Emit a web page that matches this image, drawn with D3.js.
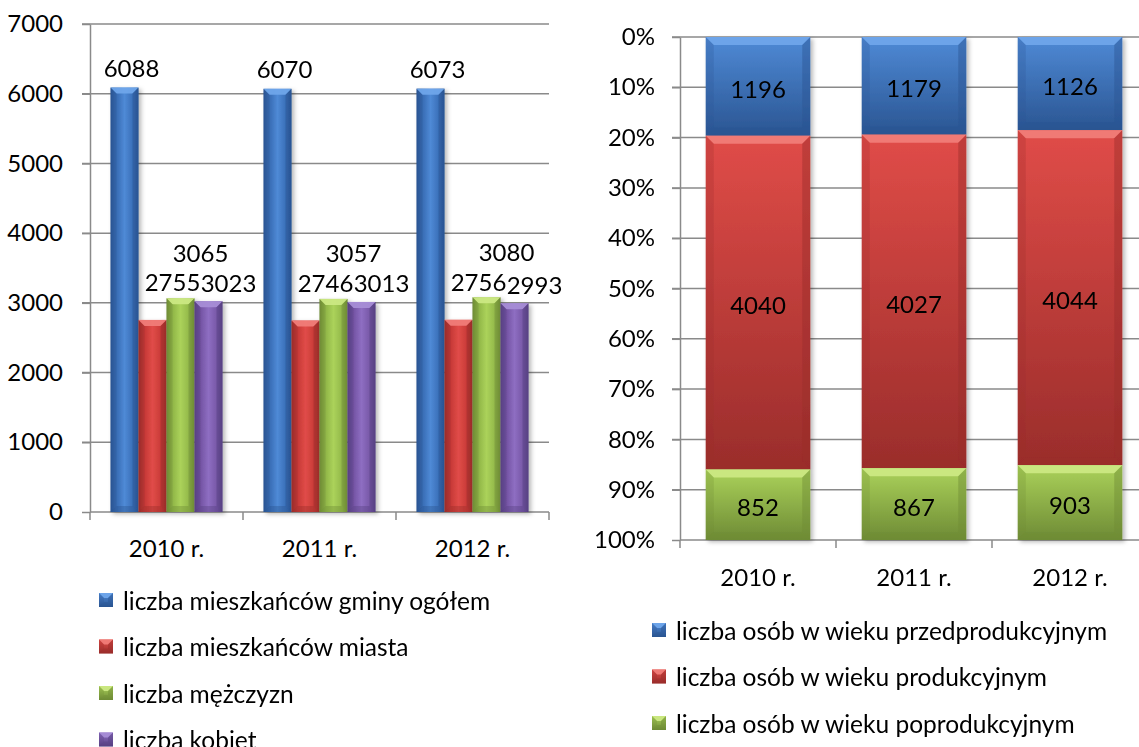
<!DOCTYPE html>
<html>
<head>
<meta charset="utf-8">
<script src="https://cdn.jsdelivr.net/npm/d3@7"></script>
<style>
  body { margin: 0; background: #fff; }
  svg { display: block; font-family: Lato, "Open Sans", sans-serif; }
  text { fill: #000; }
</style>
</head>
<body>
<div id="chart"></div>
<script>
// ----- data
var years = ["2010 r.", "2011 r.", "2012 r."];

var populationSeries = [
  "liczba mieszkańców gminy ogółem",
  "liczba mieszkańców miasta",
  "liczba mężczyzn",
  "liczba kobiet"
];
var totalResidents = [6088, 6070, 6073];
var townResidents = [2755, 2746, 2756];
var men = [3065, 3057, 3080];
var women = [3023, 3013, 2993];
var populationTicks = [0, 1000, 2000, 3000, 4000, 5000, 6000, 7000];

var ageSeries = [
  "liczba osób w wieku przedprodukcyjnym",
  "liczba osób w wieku produkcyjnym",
  "liczba osób w wieku poprodukcyjnym"
];
var preWorkingAge = [1196, 1179, 1126];
var workingAge = [4040, 4027, 4044];
var postWorkingAge = [852, 867, 903];
var shareTicks = [0, 0.1, 0.2, 0.3, 0.4, 0.5, 0.6, 0.7, 0.8, 0.9, 1];

// ----- look
var W = 1139;
var H = 747;
var FONT_SIZE = 24;
var LEGEND_SIZE = 24.5;
var GRID = "#8a8a8a";

var palettes = {
  blue:   { light: "#4f8ad6", base: "#3a6fb8", dark: "#2a5592", top: "#6fa5ea" },
  red:    { light: "#e04c48", base: "#c93b38", dark: "#9a2d2b", top: "#f07c78" },
  green:  { light: "#abd25a", base: "#93b94a", dark: "#6e8b35", top: "#cbe883" },
  purple: { light: "#8e6ec2", base: "#7757a7", dark: "#574082", top: "#a68dd6" }
};
var leftColors = ["blue", "red", "green", "purple"];
var rightColors = ["blue", "red", "green"];

// label nudges for the crowded clustered labels (as Excel placed them)
var labelNudge = [
  { dx: 7, dy: -20 },
  { dx: 20, dy: -38 },
  { dx: 20, dy: -46 },
  { dx: 20, dy: -19 }
];

var svg = d3.select("#chart").append("svg")
  .attr("width", W)
  .attr("height", H);
var defs = svg.append("defs");

// drop shadow behind the bars
var shadow = defs.append("filter")
  .attr("id", "shadow")
  .attr("x", "-20%").attr("y", "-10%")
  .attr("width", "150%").attr("height", "130%");
shadow.append("feDropShadow")
  .attr("dx", 2.5).attr("dy", 2)
  .attr("stdDeviation", 2)
  .attr("flood-color", "#000")
  .attr("flood-opacity", 0.28);

// gradients: horizontal for the clustered bars, vertical for stacked ones
Object.keys(palettes).forEach(function(key) {
  var p = palettes[key];
  var h = defs.append("linearGradient")
    .attr("id", "h-" + key)
    .attr("x1", 0).attr("x2", 1).attr("y1", 0).attr("y2", 0);
  h.append("stop").attr("offset", "0%").attr("stop-color", p.dark);
  h.append("stop").attr("offset", "25%").attr("stop-color", p.base);
  h.append("stop").attr("offset", "50%").attr("stop-color", p.light);
  h.append("stop").attr("offset", "80%").attr("stop-color", p.base);
  h.append("stop").attr("offset", "100%").attr("stop-color", p.dark);

  var v = defs.append("linearGradient")
    .attr("id", "v-" + key)
    .attr("x1", 0).attr("x2", 0).attr("y1", 0).attr("y2", 1);
  v.append("stop").attr("offset", "0%").attr("stop-color", p.light);
  v.append("stop").attr("offset", "100%").attr("stop-color", p.dark);
});

// draws one bar with an Excel-like bevel
function bevelBar(g, x, y, w, h, key, b, dir) {
  var p = palettes[key];
  var bar = g.append("g");
  bar.append("rect")
    .attr("x", x).attr("y", y)
    .attr("width", w).attr("height", h)
    .attr("fill", "url(#" + dir + "-" + key + ")");
  b = Math.min(b, w / 2, h / 2);
  function poly(pts, fill, op) {
    bar.append("polygon")
      .attr("points", pts.map(function(d) { return d.join(","); }).join(" "))
      .attr("fill", fill)
      .attr("opacity", op);
  }
  poly([[x, y], [x + w, y], [x + w - b, y + b], [x + b, y + b]], p.top, 0.95);
  poly([[x, y], [x + b, y + b], [x + b, y + h - b], [x, y + h]], p.dark, 0.25);
  poly([[x + w, y], [x + w - b, y + b], [x + w - b, y + h - b], [x + w, y + h]], p.dark, 0.45);
  poly([[x, y + h], [x + b, y + h - b], [x + w - b, y + h - b], [x + w, y + h]], p.dark, 0.4);
}

function legend(g, names, colors, x, y0, step) {
  names.forEach(function(name, i) {
    var cy = y0 + i * step;
    var row = g.append("g");
    bevelBar(row, x, cy - 7, 14, 14, colors[i], 5, "v");
    row.append("text")
      .attr("x", x + 24)
      .attr("y", cy)
      .attr("dominant-baseline", "central")
      .style("font-size", LEGEND_SIZE + "px")
      .text(name);
  });
}

// ================= left chart: clustered columns =================
(function() {
  var popValues = [totalResidents, townResidents, men, women];
  var left = 90, right = 549, top = 24, bottom = 512;

  var x = d3.scaleBand().domain(years).range([left, right])
    .paddingInner(0.268).paddingOuter(0.134);
  var xs = d3.scaleBand().domain(d3.range(populationSeries.length))
    .range([0, x.bandwidth()]);
  var y = d3.scaleLinear().domain([0, 7000]).range([bottom, top]);

  var g = svg.append("g");

  // gridlines
  g.selectAll(".grid").data(populationTicks.filter(function(d) { return d > 0; }))
    .enter().append("line")
    .attr("x1", left - 8).attr("x2", right)
    .attr("y1", function(d) { return y(d); })
    .attr("y2", function(d) { return y(d); })
    .attr("stroke", GRID).attr("stroke-width", 1.5);

  // y axis
  var yAxis = g.append("g")
    .attr("transform", "translate(" + left + ",0)")
    .call(d3.axisLeft(y).tickValues(populationTicks).tickSize(8)
      .tickSizeOuter(0).tickPadding(19).tickFormat(d3.format("d")));
  yAxis.selectAll("path,line").attr("stroke", GRID).attr("stroke-width", 1.5);
  yAxis.selectAll("text").style("font-size", FONT_SIZE + "px")
    .style("font-family", "Lato").attr("fill", "#000");

  // x axis with ticks between categories
  var xAxis = g.append("g").attr("transform", "translate(0," + bottom + ")");
  xAxis.append("line").attr("x1", left).attr("x2", right)
    .attr("stroke", GRID).attr("stroke-width", 1.5);
  var bounds = years.map(function(d) { return x(d) - x.step() * x.paddingOuter(); })
    .concat([right]);
  xAxis.selectAll(".tick").data(bounds).enter().append("line")
    .attr("x1", function(d) { return d; }).attr("x2", function(d) { return d; })
    .attr("y1", 0).attr("y2", 8)
    .attr("stroke", GRID).attr("stroke-width", 1.5);
  xAxis.selectAll(".lab").data(years).enter().append("text")
    .attr("x", function(d) { return x(d) + x.bandwidth() / 2; })
    .attr("y", 35)
    .attr("text-anchor", "middle")
    .attr("dominant-baseline", "central")
    .style("font-size", FONT_SIZE + "px")
    .text(function(d) { return d; });

  // bars
  var bars = g.append("g").attr("filter", "url(#shadow)");
  years.forEach(function(yr, i) {
    popValues.forEach(function(series, s) {
      var bx = x(yr) + xs(s);
      bevelBar(bars, bx, y(series[i]), xs.bandwidth(), y(0) - y(series[i]),
        leftColors[s], 6, "h");
    });
  });

  // data labels
  years.forEach(function(yr, i) {
    popValues.forEach(function(series, s) {
      g.append("text")
        .attr("x", x(yr) + xs(s) + xs.bandwidth() / 2 + labelNudge[s].dx)
        .attr("y", y(series[i]) + labelNudge[s].dy)
        .attr("text-anchor", "middle")
        .attr("dominant-baseline", "central")
        .style("font-size", FONT_SIZE + "px")
        .text(series[i]);
    });
  });

  legend(g, populationSeries, leftColors, 99, 600, 46.5);
})();

// ================= right chart: 100% stacked columns =================
(function() {
  var ageValues = [preWorkingAge, workingAge, postWorkingAge];
  var left = 680, right = 1148, top = 37, bottom = 540;

  var x = d3.scaleBand().domain(years).range([left, right])
    .paddingInner(0.33).paddingOuter(0.165);
  var y = d3.scaleLinear().domain([0, 1]).range([top, bottom]);

  var g = svg.append("g");

  g.selectAll(".grid").data(shareTicks.filter(function(d) { return d < 1; }))
    .enter().append("line")
    .attr("x1", left - 8).attr("x2", W)
    .attr("y1", function(d) { return y(d); })
    .attr("y2", function(d) { return y(d); })
    .attr("stroke", GRID).attr("stroke-width", 1.5);

  var yAxis = g.append("g")
    .attr("transform", "translate(" + left + ",0)")
    .call(d3.axisLeft(y).tickValues(shareTicks).tickSize(8)
      .tickSizeOuter(0).tickPadding(17).tickFormat(d3.format(".0%")));
  yAxis.selectAll("path,line").attr("stroke", GRID).attr("stroke-width", 1.5);
  yAxis.selectAll("text").style("font-size", FONT_SIZE + "px")
    .style("font-family", "Lato").attr("fill", "#000");

  var xAxis = g.append("g").attr("transform", "translate(0," + bottom + ")");
  xAxis.append("line").attr("x1", left).attr("x2", W)
    .attr("stroke", GRID).attr("stroke-width", 1.5);
  var bounds = years.map(function(d) { return x(d) - x.step() * x.paddingOuter(); });
  xAxis.selectAll(".tick").data(bounds).enter().append("line")
    .attr("x1", function(d) { return d; }).attr("x2", function(d) { return d; })
    .attr("y1", 0).attr("y2", 8)
    .attr("stroke", GRID).attr("stroke-width", 1.5);
  xAxis.selectAll(".lab").data(years).enter().append("text")
    .attr("x", function(d) { return x(d) + x.bandwidth() / 2; })
    .attr("y", 36)
    .attr("text-anchor", "middle")
    .attr("dominant-baseline", "central")
    .style("font-size", FONT_SIZE + "px")
    .text(function(d) { return d; });

  var bars = g.append("g").attr("filter", "url(#shadow)");
  var labels = g.append("g");
  years.forEach(function(yr, i) {
    var total = d3.sum(ageValues, function(s) { return s[i]; });
    var acc = 0;
    ageValues.forEach(function(series, s) {
      var y0 = y(acc / total);
      acc += series[i];
      var y1 = y(acc / total);
      bevelBar(bars, x(yr), y0, x.bandwidth(), y1 - y0, rightColors[s], 8, "v");
      labels.append("text")
        .attr("x", x(yr) + x.bandwidth() / 2)
        .attr("y", (y0 + y1) / 2 + 2)
        .attr("text-anchor", "middle")
        .attr("dominant-baseline", "central")
        .style("font-size", FONT_SIZE + "px")
        .text(series[i]);
    });
  });

  legend(g, ageSeries, rightColors, 652, 630, 46.5);
})();
</script>
</body>
</html>
